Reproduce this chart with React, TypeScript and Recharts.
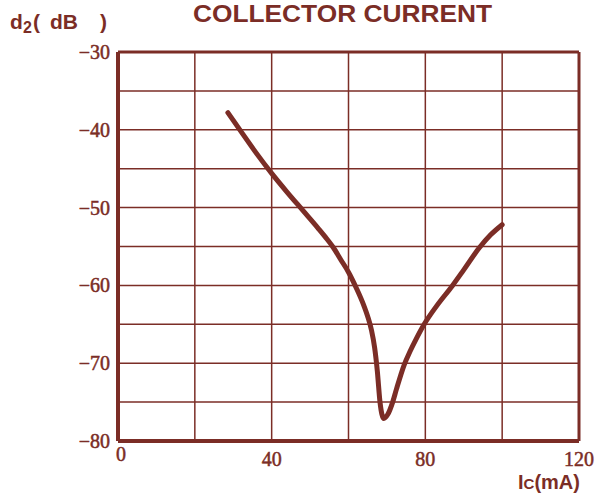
import {
  CartesianGrid,
  Line,
  LineChart,
  ReferenceLine,
  XAxis,
  YAxis,
} from "recharts";

const INK = "#7b2d26";

// collector current (mA) and second-order distortion d2 (dB)
const current = [28.6, 32, 36, 40, 44, 48, 52, 54, 56, 58, 60, 62, 64, 65, 66, 66.8, 67.5, 68.2, 69.2, 70.2, 71.5, 72.5, 74.5, 76, 77.5, 79.7, 83, 87.1, 90, 94, 97, 100];
const distortion = [-37.8, -40.2, -43.0, -45.6, -48.0, -50.3, -52.6, -53.8, -55.1, -56.7, -58.3, -60.3, -62.6, -64.0, -65.8, -68.0, -71.0, -75.0, -77.1, -76.6, -75.0, -73.3, -70.2, -68.5, -67.0, -65.0, -62.6, -60.0, -58.0, -55.2, -53.5, -52.2];

const xTicks = [0, 40, 80, 120];
const yTicks = [-80, -70, -60, -50, -40, -30];
const xGrid = [20, 40, 60, 80, 100];
const yGrid = [-75, -70, -65, -60, -55, -50, -45, -40, -35];

const data = current.map((ic, i) => ({ ic, d2: distortion[i] }));

const tickFont = {
  fontFamily: "'Liberation Serif', serif",
  fontSize: 20,
  fill: INK,
  stroke: INK,
  strokeWidth: 0.5,
};

function XTick(props: any) {
  const { x, y, payload } = props;
  const first = payload.value === 0;
  return (
    <text
      x={x + (first ? 3 : 0)}
      y={y + (first ? 12 : 17)}
      textAnchor="middle"
      {...tickFont}
    >
      {payload.value}
    </text>
  );
}

function YTick(props: any) {
  const { x, y, payload } = props;
  return (
    <text x={x} y={y + 7} textAnchor="end" {...tickFont}>
      {String(payload.value).replace("-", "\u2212")}
    </text>
  );
}

export default function App() {
  return (
    <div style={{ position: "fixed", left: 0, top: 0, width: 601, height: 496, background: "#fff" }}>
      <LineChart width={601} height={496} data={data} margin={{ top: 52, right: 22, left: 58, bottom: 25 }}>
        <CartesianGrid
          stroke={INK}
          strokeWidth={1.5}
          strokeOpacity={1}
          horizontalValues={yGrid}
          verticalValues={xGrid}
        />
        <XAxis
          dataKey="ic"
          type="number"
          domain={[0, 120]}
          ticks={xTicks}
          tickLine={false}
          axisLine={{ stroke: INK, strokeWidth: 4 }}
          tick={<XTick />}
          height={30}
        />
        <YAxis
          type="number"
          domain={[-80, -30]}
          ticks={yTicks}
          tickLine={false}
          axisLine={{ stroke: INK, strokeWidth: 4 }}
          tick={<YTick />}
          width={60}
        />
        <ReferenceLine y={-30} stroke={INK} strokeWidth={3} />
        <ReferenceLine x={120} stroke={INK} strokeWidth={3} />
        <Line
          dataKey="d2"
          type="monotone"
          stroke={INK}
          strokeWidth={5}
          strokeLinecap="round"
          dot={false}
          isAnimationActive={false}
        />
      </LineChart>
      <svg width={601} height={496} style={{ position: "absolute", left: 0, top: 0, pointerEvents: "none" }}>
        <g fontFamily="'Liberation Sans', Arial, sans-serif" fontWeight="bold" fill={INK}>
          <text x={193} y={22} fontSize={24} textLength={299} lengthAdjust="spacingAndGlyphs">
            COLLECTOR CURRENT
          </text>
          <text y={29} fontSize={21}>
            <tspan x={10}>d</tspan>
            <tspan x={23} y={33} fontSize={16}>2</tspan>
            <tspan x={33} y={29}>(</tspan>
            <tspan x={50}>dB</tspan>
            <tspan x={100}>)</tspan>
          </text>
          <text x={518} y={489} fontSize={20}>
            I<tspan fontSize={15}>C</tspan>(mA)
          </text>
        </g>
      </svg>
    </div>
  );
}
